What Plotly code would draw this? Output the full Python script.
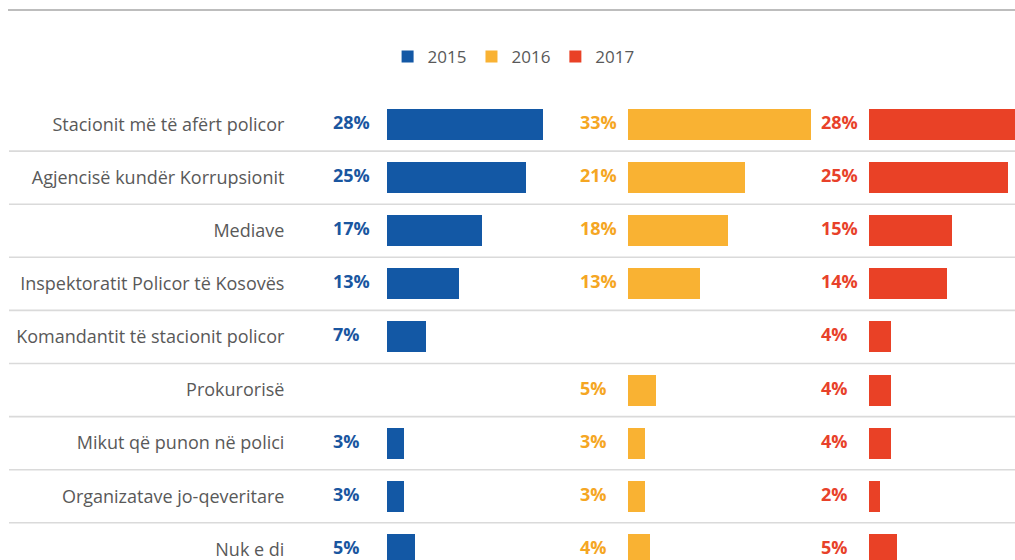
import plotly.graph_objects as go

# ---- data ----
categories = [
    "Stacionit më të afërt policor",
    "Agjencisë kundër Korrupsionit",
    "Mediave",
    "Inspektoratit Policor të Kosovës",
    "Komandantit të stacionit policor",
    "Prokurorisë",
    "Mikut që punon në polici",
    "Organizatave jo-qeveritare",
    "Nuk e di",
]
years = ["2015", "2016", "2017"]
values_2015 = [28, 25, 17, 13, 7, None, 3, 3, 5]
values_2016 = [33, 21, 18, 13, None, 5, 3, 3, 4]
values_2017 = [28, 25, 15, 14, 4, 4, 4, 2, 5]
series = [values_2015, values_2016, values_2017]

# ---- style ----
W, H = 1015, 560
bar_colors = ["#1358A5", "#F9B233", "#E94126"]
label_colors = ["#1A56A0", "#F5A623", "#E8412A"]
text_gray = "#595959"
panel_start_px = [387, 628, 869]   # pixel where value 0 sits in each panel
px_per_unit = 5.56
left_units = 10.0                  # room left of zero for the value labels
label_offset = [-9.71, -8.63, -8.63]
top_px = 98
row_px = 53.1

fig = go.Figure()

axis_names = ["x", "x2", "x3"]
for i, (yr, vals) in enumerate(zip(years, series)):
    fig.add_trace(go.Bar(
        x=vals, y=categories, orientation="h", name=yr,
        marker=dict(color=bar_colors[i], line=dict(width=0)),
        width=0.585, xaxis=axis_names[i], yaxis="y",
        hoverinfo="skip",
    ))
for i, vals in enumerate(series):
    ys = [c for c, v in zip(categories, vals) if v is not None]
    txt = [f"{v}%" for v in vals if v is not None]
    fig.add_trace(go.Scatter(
        x=[label_offset[i]] * len(ys), y=ys, mode="text", text=txt,
        textposition="middle right",
        textfont=dict(family="Open Sans", size=18, color=label_colors[i],
                      weight="bold"),
        xaxis=axis_names[i], yaxis="y", showlegend=False, hoverinfo="skip",
    ))

# axis domains computed from pixel layout
layout_axes = {}
for i, p0 in enumerate(panel_start_px):
    left_px = p0 - left_units * px_per_unit
    if i < 2:
        right_units = 34.0
    else:
        right_units = (W - p0) / px_per_unit
    right_px = min(W, p0 + right_units * px_per_unit)
    key = "xaxis" if i == 0 else f"xaxis{i+1}"
    layout_axes[key] = dict(
        domain=[left_px / W, right_px / W], range=[-left_units, right_units],
        visible=False, anchor="y", fixedrange=True,
    )

plot_h = H - top_px
y_bottom = plot_h / row_px - 0.5

fig.update_layout(
    width=W, height=H,
    margin=dict(l=0, r=0, t=top_px, b=0),
    paper_bgcolor="white", plot_bgcolor="rgba(0,0,0,0)",
    barmode="group", bargap=0,
    showlegend=True,
    hovermode=False,
    legend=dict(
        orientation="h", x=0.506, xanchor="center",
        yref="container", y=1 - 57 / H, yanchor="middle",
        font=dict(family="Open Sans", size=17, color=text_gray),
        itemwidth=30, traceorder="normal",
    ),
    yaxis=dict(
        categoryorder="array", categoryarray=categories,
        range=[y_bottom, -0.5], showgrid=False, zeroline=False,
        showline=False, ticks="", ticklabelstandoff=46,
        tickfont=dict(family="Open Sans", size=18, color=text_gray),
        fixedrange=True,
    ),
    **layout_axes,
)

# row separators
for k in range(len(categories) - 1):
    fig.add_shape(type="line", xref="paper", yref="y",
                  x0=9 / W, x1=1, y0=k + 0.5, y1=k + 0.5,
                  line=dict(color="#DADADA", width=1.6))
# top rule
top_rule_y = 1 + (top_px - 10) / plot_h
fig.add_shape(type="line", xref="paper", yref="paper",
              x0=8 / W, x1=1, y0=top_rule_y, y1=top_rule_y,
              line=dict(color="#BDBDBD", width=2))

fig.write_html(
    "out.html",
    config={"displayModeBar": False, "staticPlot": True},
    post_script="document.body.style.margin='0';"
                "document.body.style.overflow='hidden';",
)
